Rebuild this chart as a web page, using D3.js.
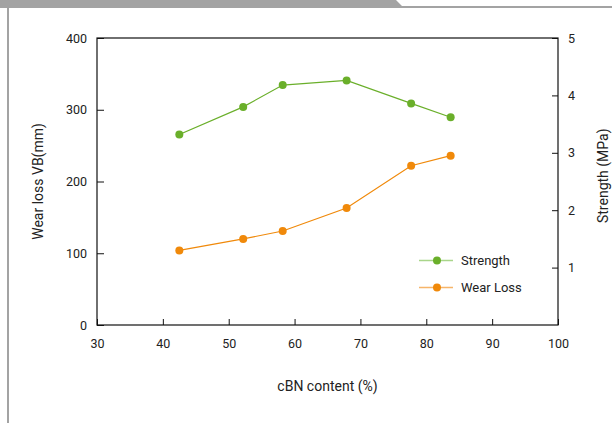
<!DOCTYPE html>
<html>
<head>
<meta charset="utf-8">
<script src="https://cdn.jsdelivr.net/npm/d3@7"></script>
<style>
  body { margin: 0; background: #fff; }
  svg text { font-family: Roboto, "Noto Sans", sans-serif; fill: #222; }
</style>
</head>
<body>
<svg id="chart" width="612" height="423"></svg>
<script>
// --- Data ---
const cbnContent = [42.5, 52.2, 58.2, 67.9, 77.7, 83.7];
const wearLoss = [104, 120, 131, 163, 222, 236];
const strength = [3.32, 3.80, 4.18, 4.26, 3.86, 3.62];
const xTicks = [30, 40, 50, 60, 70, 80, 90, 100];
const leftTicks = [0, 100, 200, 300, 400];
const rightTicks = [1, 2, 3, 4, 5];
const seriesNames = ['Strength', 'Wear Loss'];

// --- Layout ---
const margin = { top: 38, right: 54, bottom: 98, left: 97 };
const W = 612, H = 423;
const width = W - margin.left - margin.right;
const height = H - margin.top - margin.bottom;
const green = '#6aaf2a', orange = '#f0890a';

const svg = d3.select('#chart');

// page decoration: grey tab at top, rule at left
svg.append('path')
    .attr('d', 'M0,0 L396,0 L402,6 L612,6 L612,8 L0,8 Z')
    .attr('fill', '#a3a3a3');
svg.append('rect').attr('x', 7).attr('y', 0).attr('width', 2).attr('height', H).attr('fill', '#a3a3a3');

const g = svg.append('g').attr('transform', `translate(${margin.left},${margin.top})`);

// Scales
const x = d3.scaleLinear().domain([30, 100]).range([0, width]);
const yL = d3.scaleLinear().domain([0, 400]).range([height, 0]);
const yR = d3.scaleLinear().domain([0, 5]).range([height, 0]);

// Frame
g.append('rect').attr('width', width).attr('height', height)
    .attr('fill', 'none').attr('stroke', '#111').attr('stroke-width', 1.2);

// Axes (ticks pointing inward)
const xAxis = g.append('g').attr('transform', `translate(0,${height})`)
    .call(d3.axisBottom(x).tickValues(xTicks).tickSize(-6).tickPadding(14));
const lAxis = g.append('g')
    .call(d3.axisLeft(yL).tickValues(leftTicks).tickSize(-7).tickPadding(10));
const rAxis = g.append('g').attr('transform', `translate(${width},0)`)
    .call(d3.axisRight(yR).tickValues(rightTicks).tickFormat(d3.format('d')).tickSize(-6).tickPadding(10));

[xAxis, lAxis, rAxis].forEach(a => {
    a.select('.domain').remove();
    a.selectAll('line').attr('stroke', '#111').attr('stroke-width', 1);
    a.selectAll('text').style('font-size', '12.5px').attr('fill', '#222');
});

// Axis titles
g.append('text').attr('transform', 'rotate(-90)')
    .attr('x', -yL(200)).attr('y', -54).attr('text-anchor', 'middle')
    .style('font-size', '14px').text('Wear loss VB(mm)');
g.append('text').attr('transform', 'rotate(-90)')
    .attr('x', -yR(2.6)).attr('y', width + 50).attr('text-anchor', 'middle')
    .style('font-size', '14px').text('Strength (MPa)');
g.append('text').attr('x', x(65)).attr('y', height + 66).attr('text-anchor', 'middle')
    .style('font-size', '14px').text('cBN content (%)');

// Series
const series = [
    { name: seriesNames[0], vals: strength, y: yR, color: green, light: '#a9d58a' },
    { name: seriesNames[1], vals: wearLoss, y: yL, color: orange, light: '#f6b56a' }
];

series.forEach(s => {
    const pts = cbnContent.map((c, i) => [c, s.vals[i]]);
    g.append('path').datum(pts)
        .attr('d', d3.line().x(d => x(d[0])).y(d => s.y(d[1])))
        .attr('fill', 'none').attr('stroke', s.color).attr('stroke-width', 1.2);
    g.selectAll(null).data(pts).enter().append('circle')
        .attr('cx', d => x(d[0])).attr('cy', d => s.y(d[1])).attr('r', 4)
        .attr('fill', s.color);
});

// Legend
const legend = g.append('g').attr('transform', `translate(${x(79.5) - 4},${yL(90)})`);
series.forEach((s, i) => {
    const row = legend.append('g').attr('transform', `translate(0,${i * 27})`);
    row.append('line').attr('x1', 0).attr('x2', 34).attr('y1', 0).attr('y2', 0)
        .attr('stroke', s.light).attr('stroke-width', 1.5);
    row.append('circle').attr('cx', 18).attr('cy', 0).attr('r', 4).attr('fill', s.color);
    row.append('text').attr('x', 42).attr('y', 0).attr('dy', '0.35em')
        .style('font-size', '13px').text(s.name);
});
</script>
</body>
</html>
